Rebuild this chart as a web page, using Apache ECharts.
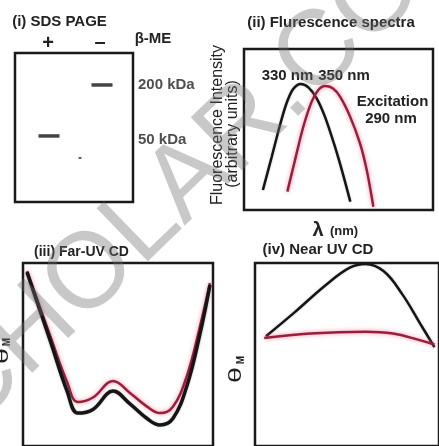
<!DOCTYPE html>
<html>
<head>
<meta charset="utf-8">
<script src="https://cdn.jsdelivr.net/npm/echarts@6/dist/echarts.min.js"></script>
<style>
html,body{margin:0;padding:0;background:#fff;}
#c{width:439px;height:446px;}
</style>
</head>
<body>
<div id="c"></div>
<script>
// ---------- DATA ----------
// (i) SDS PAGE : lanes (+/- beta-mercaptoethanol), band positions in kDa
const sdsLanes = ['+', '–'];
const sdsBandLane = [1, 2];
const sdsBandKDa = [50, 200];
const sdsSpeckLane = [1.585];
const sdsSpeckKDa = [27.5];
const sdsMarkerKDa = [200, 50];
const sdsMarkerText = ['200 kDa', '50 kDa'];

// (ii) Fluorescence spectra (wavelength nm, arbitrary intensity)
const fl330Wl = [298, 305.5, 312.5, 318, 323.5, 330, 336.5, 343.5, 350.5, 359, 366, 372];
const fl330I  = [12.4, 33.1, 52.8, 66.3, 75, 78.3, 76.2, 69.4, 58, 39.3, 21.7, 5.2];
const fl350Wl = [318.7, 325.2, 332.2, 339.3, 344.9, 350.5, 357.1, 363.3, 371.8, 380.2, 385.9, 391.5];
const fl350I  = [11.4, 31.1, 51.7, 67.3, 74.5, 77, 75.6, 70.4, 58, 41.4, 24.8, 2];

// (iii) Far-UV CD (relative wavelength position, relative ellipticity)
const farX     = [2.1, 14.2, 23.2, 28.9, 36.8, 47.4, 56.3, 65.3, 72.1, 78.9, 86.3, 93.2, 98.4];
const farBlack = [95, 58, 30, 18, 20, 30, 23, 15, 11.5, 15, 33, 61.5, 88];
const farRed   = [95.5, 60.5, 35, 24, 26.5, 35.5, 29, 21.5, 18, 21.5, 38.5, 65.5, 89];

// (iv) Near-UV CD
const nearBlackX = [6, 21.5, 38.5, 51.5, 60, 70, 80, 90, 97.5];
const nearBlack  = [60, 73, 88, 97.5, 99.5, 95.5, 83, 66.5, 54];
const nearRedX   = [5, 30, 60, 75, 89, 97.5];
const nearRed    = [59, 61.5, 62.5, 61.5, 58, 55.5];

// ---------- STYLE ----------
const FONT = '"Liberation Sans", Arial, sans-serif';
const BLACK = '#151515';
const RED = '#9c1c3c';
const zip = (a, b) => a.map((v, i) => [v, b[i]]);

const gridBase = {show: true, borderColor: '#1a1a1a', borderWidth: 2.5, backgroundColor: 'transparent', containLabel: false};
const hiddenAxis = {show: false, splitLine: {show: false}};

function txt(text, x, y, font, extra) {
  return Object.assign({
    type: 'text', x: x, y: y, z: 50,
    style: {text: text, font: font, fill: '#222', align: 'center', verticalAlign: 'middle',
            textAlign: 'center', textVerticalAlign: 'middle'}
  }, extra || {});
}
const ROT = {rotation: Math.PI / 2};
const ROT_THETA = {rotation: Math.PI / 2, scaleX: 1.5, scaleY: 0.95};

const lineStyleBlack = (w) => ({color: BLACK, width: w, shadowColor: 'rgba(60,60,60,0.35)', shadowBlur: 2});
const lineStyleRed = (w) => ({color: RED, width: w, shadowColor: 'rgba(240,90,120,0.7)', shadowBlur: 4});

const chart = echarts.init(document.getElementById('c'), null, {renderer: 'canvas'});
chart.setOption({
  animation: false,
  backgroundColor: '#ffffff',
  grid: [
    Object.assign({left: 15, top: 53, width: 118, height: 149}, gridBase),
    Object.assign({left: 244, top: 49, width: 189, height: 161}, gridBase),
    Object.assign({left: 23, top: 263, width: 190, height: 200}, gridBase),
    Object.assign({left: 255, top: 263, width: 200, height: 200}, gridBase)
  ],
  xAxis: [
    Object.assign({type: 'value', gridIndex: 0, min: 0.358, max: 2.585}, hiddenAxis),
    Object.assign({type: 'value', gridIndex: 1, min: 282, max: 442}, hiddenAxis),
    Object.assign({type: 'value', gridIndex: 2, min: 0, max: 100}, hiddenAxis),
    Object.assign({type: 'value', gridIndex: 3, min: 0, max: 100}, hiddenAxis)
  ],
  yAxis: [
    Object.assign({type: 'log', gridIndex: 0, min: 8.3, max: 477, logBase: 10}, hiddenAxis),
    Object.assign({type: 'value', gridIndex: 1, min: 0, max: 100}, hiddenAxis),
    Object.assign({type: 'value', gridIndex: 2, min: 0, max: 100}, hiddenAxis),
    Object.assign({type: 'value', gridIndex: 3, min: 0, max: 100}, hiddenAxis)
  ],
  series: [
    {type: 'scatter', name: 'bands', xAxisIndex: 0, yAxisIndex: 0, symbol: 'rect', symbolSize: [21, 3.5],
     itemStyle: {color: BLACK}, data: zip(sdsBandLane, sdsBandKDa), z: 5},
    {type: 'scatter', name: 'speck', xAxisIndex: 0, yAxisIndex: 0, symbol: 'rect', symbolSize: [3, 2],
     itemStyle: {color: '#333'}, data: zip(sdsSpeckLane, sdsSpeckKDa), z: 5},
    {type: 'scatter', name: 'markers', xAxisIndex: 0, yAxisIndex: 0, symbolSize: 0,
     data: sdsMarkerKDa.map((k, i) => ({value: [2.585, k], name: sdsMarkerText[i],
        label: {offset: [0, i === 1 ? 4 : 0]}})),
     label: {show: true, position: 'right', distance: 5, formatter: (p) => p.name,
             fontFamily: FONT, fontWeight: 'bold', fontSize: 15, color: '#222'}},
    {type: 'line', name: '330', xAxisIndex: 1, yAxisIndex: 1, smooth: 0.3, showSymbol: false,
     lineStyle: lineStyleBlack(2.5), data: zip(fl330Wl, fl330I)},
    {type: 'line', name: '350', xAxisIndex: 1, yAxisIndex: 1, smooth: 0.3, showSymbol: false,
     lineStyle: lineStyleRed(2.5), data: zip(fl350Wl, fl350I)},
    {type: 'line', name: 'farRed', xAxisIndex: 2, yAxisIndex: 2, smooth: 0.4, showSymbol: false,
     lineStyle: lineStyleRed(2.5), data: zip(farX, farRed)},
    {type: 'line', name: 'farBlack', xAxisIndex: 2, yAxisIndex: 2, smooth: 0.4, showSymbol: false,
     lineStyle: lineStyleBlack(3.5), data: zip(farX, farBlack)},
    {type: 'line', name: 'nearBlack', xAxisIndex: 3, yAxisIndex: 3, smooth: 0.4, showSymbol: false,
     lineStyle: lineStyleBlack(2.5), data: zip(nearBlackX, nearBlack)},
    {type: 'line', name: 'nearRed', xAxisIndex: 3, yAxisIndex: 3, smooth: 0.4, showSymbol: false,
     lineStyle: lineStyleRed(2.5), data: zip(nearRedX, nearRed)}
  ],
  graphic: [
    txt('(i) SDS PAGE', 59.5, 22, 'bold 15px ' + FONT),
    txt(sdsLanes[0], 48, 43, 'bold 20px ' + FONT),
    txt(sdsLanes[1], 100, 42, 'bold 20px ' + FONT),
    txt('β-ME', 153, 39, 'bold 15px ' + FONT),
    txt('(ii) Flurescence spectra', 331, 23, 'bold 15px ' + FONT),
    txt('Fluorescence Intensity', 218, 125, '16px ' + FONT, ROT),
    txt('(arbitrary units)', 233, 134, '16px ' + FONT, ROT),
    txt('330 nm', 287.5, 76, 'bold 15px ' + FONT),
    txt('350 nm', 344, 76, 'bold 15px ' + FONT),
    txt('Excitation', 392.5, 102, 'bold 15px ' + FONT),
    txt('290 nm', 391, 119, 'bold 15px ' + FONT),
    txt('λ', 318, 230, 'bold 20px ' + FONT),
    txt('(nm)', 344, 231, 'bold 13px ' + FONT),
    txt('(iii) Far-UV CD', 81.5, 252, 'bold 14px ' + FONT),
    txt('(iv) Near UV CD', 318, 250, 'bold 15px ' + FONT),
    txt('θ', 3, 356, '19px ' + FONT, ROT_THETA),
    txt('M', 7, 342, 'bold 10px ' + FONT, ROT),
    txt('θ', 236, 375, '19px ' + FONT, ROT_THETA),
    txt('M', 241, 360, 'bold 10px ' + FONT, ROT),
    {type: 'text', x: 153, y: 215, rotation: 0.768, z: 100,
     style: {text: 'SCHOLAR.CO', font: '107px ' + FONT, fill: 'rgba(110,110,110,0.38)',
             align: 'center', verticalAlign: 'middle', textAlign: 'center', textVerticalAlign: 'middle'}}
  ]
});
</script>
</body>
</html>
